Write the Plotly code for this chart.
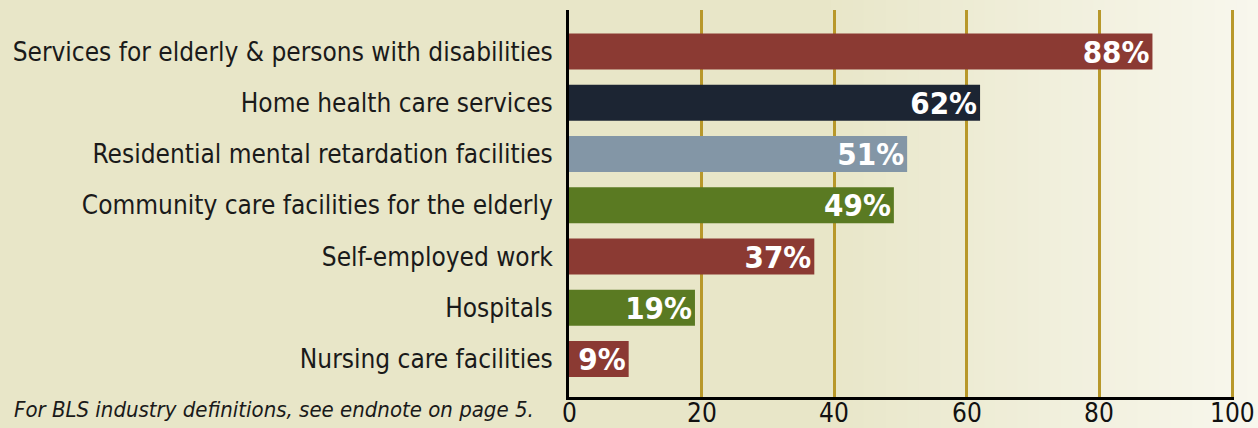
import plotly.graph_objects as go

categories = [
    "Services for elderly & persons with disabilities",
    "Home health care services",
    "Residential mental retardation facilities",
    "Community care facilities for the elderly",
    "Self-employed work",
    "Hospitals",
    "Nursing care facilities",
]
values = [88, 62, 51, 49, 37, 19, 9]
bar_colors = ["#8b3a33", "#1c2533", "#8396a6", "#5a7a22", "#8b3a33", "#5a7a22", "#8b3a33"]
x_ticks = [0, 20, 40, 60, 80, 100]
footnote = "For BLS industry definitions, see endnote on page 5."

FONT = "Liberation Sans Narrow, DejaVu Sans Condensed, Roboto Condensed, Arial Narrow, Roboto"

W, H = 1258, 428
L, R, T, B = 569, 24, 10, 31
plot_w = W - L - R
plot_h = H - T - B

fig = go.Figure()
fig.add_trace(go.Bar(
    x=values, y=categories, orientation="h",
    marker=dict(color=bar_colors, line=dict(width=0)),
    width=0.70,
    text=[f"{v}%" for v in values],
    textposition="inside", insidetextanchor="end",
    constraintext="none",
    textfont=dict(family=FONT, size=31, color="white", weight="bold"),
    hoverinfo="skip",
))

# background gradient strips (paper coordinates)
shapes = []
g0, g1 = 820, W
n = 40
c0 = (232, 230, 200)
c1 = (248, 247, 237)
for i in range(n):
    p0 = g0 + (g1 - g0) * i / n
    p1 = g0 + (g1 - g0) * (i + 1) / n + 1
    t = (i + 0.5) / n
    c = tuple(round(c0[k] + (c1[k] - c0[k]) * t) for k in range(3))
    shapes.append(dict(type="rect", xref="paper", yref="paper",
                       x0=(p0 - L) / plot_w, x1=(p1 - L) / plot_w, y0=-1, y1=2,
                       fillcolor="rgb(%d,%d,%d)" % c, line=dict(width=0), layer="below"))

annotations = [dict(
    text=footnote, xref="paper", yref="paper",
    x=(12 - L) / plot_w, y=-13 / plot_h, xanchor="left", yanchor="middle",
    showarrow=False,
    font=dict(family=FONT, size=22, color="#1a1a1a", style="italic"),
)]
# x-axis tick labels placed on the x data scale
for v in x_ticks:
    annotations.append(dict(
        text=str(v), xref="x", yref="paper", x=v, y=-16 / plot_h,
        xanchor="center", yanchor="middle", showarrow=False,
        font=dict(family=FONT, size=26, color="#111"),
    ))

fig.update_layout(
    width=W, height=H,
    margin=dict(l=L, r=R, t=T, b=B, autoexpand=False),
    paper_bgcolor="#e8e6c8",
    plot_bgcolor="rgba(0,0,0,0)",
    shapes=shapes,
    showlegend=False,
    bargap=0.3,
    xaxis=dict(
        range=[0, 100.3], tickvals=x_ticks, showticklabels=False,
        showgrid=True, gridcolor="#b8982a", gridwidth=3,
        zeroline=False, showline=True, linecolor="black", linewidth=3,
        ticks="", automargin=False,
    ),
    yaxis=dict(
        categoryorder="array", categoryarray=categories,
        range=[6.741, -0.81],
        showgrid=False, zeroline=False, showline=True, linecolor="black", linewidth=3,
        ticks="", ticklabelstandoff=8, automargin=False,
        tickfont=dict(family=FONT, size=26, color="#1a1a1a"),
    ),
    annotations=annotations,
)

fig.write_html("out.html", config={"displayModeBar": False},
               post_script="document.body.style.margin='0';document.body.style.background='#e8e6c8';")
